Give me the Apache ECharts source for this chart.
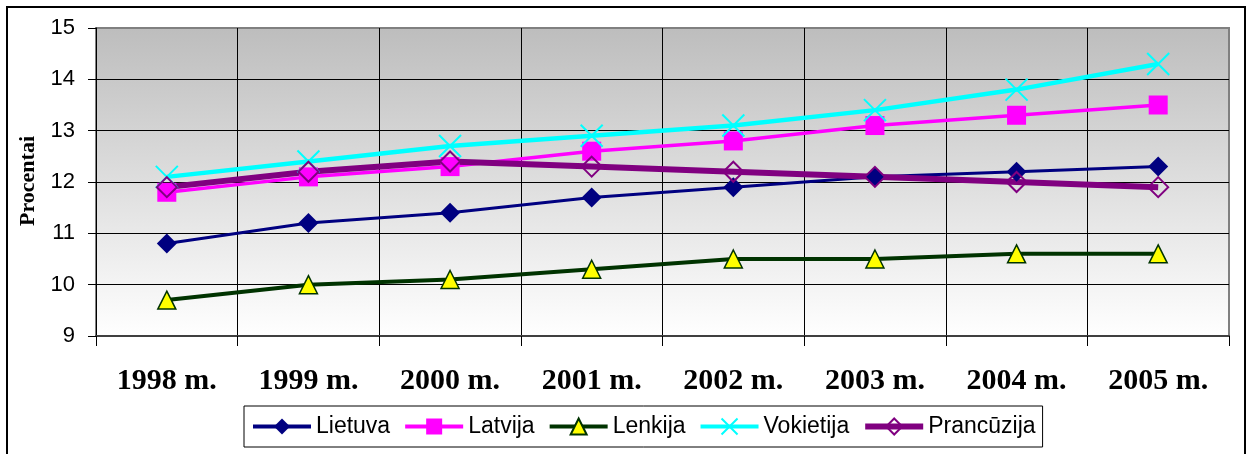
<!DOCTYPE html>
<html>
<head>
<meta charset="utf-8">
<script src="https://cdn.jsdelivr.net/npm/echarts@6/dist/echarts.min.js"></script>
<style>
  html, body { margin: 0; padding: 0; background: #fff; }
  #chart { width: 1250px; height: 454px; }
</style>
</head>
<body>
<div id="chart"></div>
<script>
// metai
var years = ['1998 m.', '1999 m.', '2000 m.', '2001 m.', '2002 m.', '2003 m.', '2004 m.', '2005 m.']
// procentai pagal salis
var lietuva = [10.8, 11.2, 11.4, 11.7, 11.9, 12.1, 12.2, 12.3]
var latvija = [11.8, 12.1, 12.3, 12.6, 12.8, 13.1, 13.3, 13.5]
var lenkija = [9.7, 10.0, 10.1, 10.3, 10.5, 10.5, 10.6, 10.6]
var vokietija = [12.1, 12.4, 12.7, 12.9, 13.1, 13.4, 13.8, 14.3]
var prancuzija = [11.9, 12.2, 12.4, 12.3, 12.2, 12.1, 12.0, 11.9]
var yMin = 9
var yMax = 15

var chart = echarts.init(document.getElementById('chart'))
chart.setOption({
  animation: false,
  graphic: [
    {
      type: 'rect',
      shape: { x: 7, y: 7, width: 1238, height: 470 },
      style: { fill: 'none', stroke: '#000', lineWidth: 2 },
      silent: true
    },
    {
      type: 'text',
      x: 28,
      y: 181,
      rotation: Math.PI / 2,
      style: {
        text: 'Procentai',
        font: 'bold 22px "Liberation Serif"',
        fill: '#000',
        align: 'center',
        verticalAlign: 'middle'
      }
    }
  ],
  grid: {
    left: 96,
    top: 28,
    right: 21,
    bottom: 118,
    show: true,
    borderColor: '#808080',
    borderWidth: 2,
    backgroundColor: new echarts.graphic.LinearGradient(0, 0, 0, 1, [
      { offset: 0, color: '#bdbdbd' },
      { offset: 1, color: '#ffffff' }
    ])
  },
  legend: {
    left: 244,
    top: 406,
    padding: [9, 7, 9, 7],
    itemWidth: 58,
    itemHeight: 20,
    itemGap: 13,
    borderColor: '#000',
    borderWidth: 1,
    backgroundColor: '#fff',
    textStyle: { fontFamily: 'Liberation Sans', fontSize: 23, color: '#000' },
    data: [
      { name: 'Lietuva', lineStyle: { width: 4 } },
      { name: 'Latvija', lineStyle: { width: 4 } },
      { name: 'Lenkija', lineStyle: { width: 4 } },
      { name: 'Vokietija', lineStyle: { width: 4 } },
      { name: 'Prancūzija', lineStyle: { width: 6 } }
    ]
  },
  xAxis: {
    type: 'category',
    data: years,
    boundaryGap: true,
    axisLine: { lineStyle: { color: '#404040', width: 2 } },
    axisTick: { show: true, length: 10, interval: 0, lineStyle: { color: '#000' } },
    axisLabel: {
      margin: 30,
      interval: 0,
      fontFamily: 'Liberation Serif',
      fontWeight: 'bold',
      fontSize: 30,
      color: '#000'
    },
    splitLine: { show: true, interval: 0, showMaxLine: false, lineStyle: { color: '#000', width: 1 } }
  },
  yAxis: {
    type: 'value',
    min: yMin,
    max: yMax,
    interval: 1,
    axisLine: { show: true, lineStyle: { color: '#000', width: 1 } },
    axisTick: { show: true, length: 8, lineStyle: { color: '#000' } },
    axisLabel: { margin: 21, fontFamily: 'Liberation Sans', fontSize: 22, color: '#000' },
    splitLine: { show: true, showMaxLine: false, showMinLine: false, lineStyle: { color: '#000', width: 1 } }
  },
  series: [
    {
      name: 'Lietuva',
      type: 'line',
      data: lietuva,
      symbol: 'diamond',
      symbolSize: 20,
      lineStyle: { color: '#000080', width: 3 },
      itemStyle: { color: '#000080' }
    },
    {
      name: 'Latvija',
      type: 'line',
      data: latvija,
      symbol: 'rect',
      symbolSize: 19,
      lineStyle: { color: '#ff00ff', width: 3.5 },
      itemStyle: { color: '#ff00ff' }
    },
    {
      name: 'Lenkija',
      type: 'line',
      data: lenkija,
      symbol: 'triangle',
      symbolSize: 18,
      lineStyle: { color: '#003300', width: 4 },
      itemStyle: { color: '#ffff00', borderColor: '#003300', borderWidth: 1.5 }
    },
    {
      name: 'Vokietija',
      type: 'line',
      data: vokietija,
      symbol: 'path://M0 0L20 20M20 0L0 20',
      symbolSize: 22,
      lineStyle: { color: '#00ffff', width: 4.5 },
      itemStyle: { color: '#00ffff', borderColor: '#00ffff', borderWidth: 2 }
    },
    {
      name: 'Prancūzija',
      type: 'line',
      data: prancuzija,
      symbol: 'diamond',
      symbolSize: 20,
      lineStyle: { color: '#800080', width: 6 },
      itemStyle: { color: 'rgba(255,255,255,0)', borderColor: '#800080', borderWidth: 2 }
    }
  ]
})
</script>
</body>
</html>
